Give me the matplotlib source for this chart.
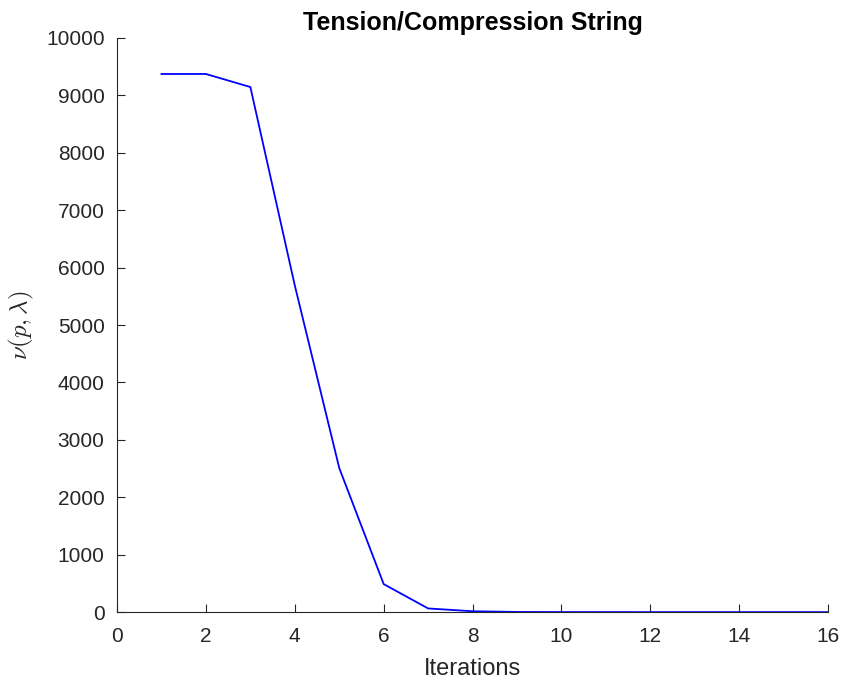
import matplotlib
matplotlib.use("Agg")
import matplotlib.pyplot as plt

# convergence of the penalty function over the iterations
iterations = [1, 2, 3, 4, 5, 6, 7, 8, 9, 10, 11, 12, 13, 14, 15, 16]
nu_values = [9373, 9373, 9146, 5690, 2510, 488, 64, 15, 3, 1, 0.5, 0.3, 0.2, 0.1, 0.1, 0.1]

plt.rcParams["font.family"] = ["Liberation Sans", "DejaVu Sans"]
plt.rcParams["mathtext.fontset"] = "cm"

fig = plt.figure(figsize=(8.45, 6.87), dpi=100)
ax = fig.add_axes([0.1385, 0.109, 0.8415, 0.8357])

ax.plot(iterations, nu_values, color="blue", linewidth=1.3)

ax.set_xlim(0, 16)
ax.set_ylim(0, 10000)
ax.set_xticks(range(0, 17, 2))
ax.set_yticks(range(0, 10001, 1000))

ax.spines["top"].set_visible(False)
ax.spines["right"].set_visible(False)
for s in ("left", "bottom"):
    ax.spines[s].set_color("#262626")
    ax.spines[s].set_linewidth(0.8)
ax.tick_params(direction="in", length=6, width=0.8, colors="#262626",
               labelsize=15, labelcolor="#262626")
ax.tick_params(axis="y", pad=9)
ax.tick_params(axis="x", pad=11)

ax.set_title("Tension/Compression String", fontsize=18, fontweight="bold", pad=6)
ax.set_xlabel("Iterations", fontsize=17, color="#262626", labelpad=8)
ax.set_ylabel(r"$\nu(p,\lambda)$", fontsize=18, color="#262626", labelpad=7)

fig.savefig("out.png", dpi=100)
